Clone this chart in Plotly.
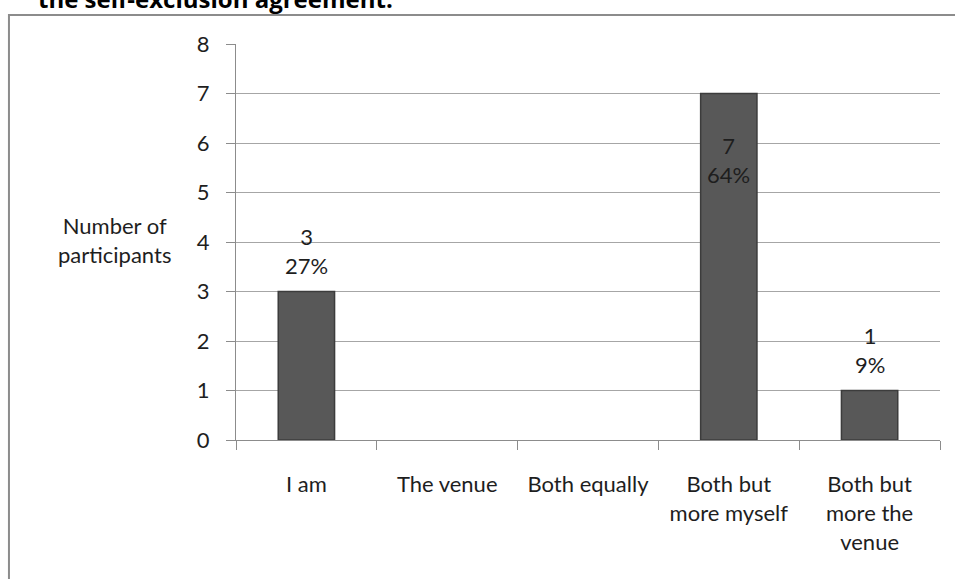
import plotly.graph_objects as go

categories = ["I am", "The venue", "Both equally", "Both but<br>more myself", "Both but<br>more the<br>venue"]
counts = [3, 0, 0, 7, 1]
y_ticks = [0, 1, 2, 3, 4, 5, 6, 7, 8]

total = sum(counts)
FONT = "Lato, 'Open Sans', sans-serif"
FS = 22
TXT = "#1e1e1e"

fig = go.Figure()
fig.add_trace(go.Bar(
    x=categories,
    y=counts,
    width=0.40,
    marker=dict(color="#585858",
                line=dict(color="#3c3c3c", width=[1.5 if v > 0 else 0 for v in counts])),
    hoverinfo="skip",
))

# value / share labels: above short bars, inside the tall one
annotations = []
for cat, v in zip(categories, counts):
    if v == 0:
        continue
    label = f"{v}<br>{round(100 * v / total)}%"
    if v >= 6:
        annotations.append(dict(x=cat, y=v, xref="x", yref="y", text=label,
                                 showarrow=False, yanchor="top", yshift=-36,
                                 font=dict(size=FS, color=TXT, family=FONT)))
    else:
        annotations.append(dict(x=cat, y=v, xref="x", yref="y", text=label,
                                 showarrow=False, yanchor="bottom", yshift=11,
                                 font=dict(size=FS, color=TXT, family=FONT)))

# axis title placed horizontally to the left of the value axis
annotations.append(dict(x=-0.172, y=0.505, xref="paper", yref="paper",
                        text="Number of<br>participants", showarrow=False,
                        xanchor="center", yanchor="middle", align="center",
                        font=dict(size=FS, color=TXT, family=FONT)))

# heading above the chart frame
annotations.append(dict(x=-0.284, y=1.068, xref="paper", yref="paper",
                        text="<b>the self-exclusion agreement.</b>", showarrow=False,
                        xanchor="left", yanchor="bottom",
                        font=dict(size=24, color="#000000", family="'Open Sans', sans-serif")))

fig.update_layout(
    width=955, height=579,
    margin=dict(l=236, r=15, t=44, b=139),
    paper_bgcolor="white", plot_bgcolor="white",
    showlegend=False,
    annotations=annotations,
    font=dict(family=FONT, size=FS, color=TXT),
    shapes=[dict(type="rect", xref="paper", yref="paper",
                 x0=-0.3225, x1=1.05, y0=-0.5, y1=1.073,
                 line=dict(color="#8c8c8c", width=2), fillcolor="rgba(0,0,0,0)",
                 layer="below")],
)

fig.update_xaxes(
    type="category",
    tickson="boundaries",
    ticks="outside", ticklen=9, tickcolor="#8c8c8c", tickwidth=1,
    showline=True, linecolor="#8c8c8c", linewidth=1,
    showgrid=False,
    ticklabelstandoff=25,
    tickfont=dict(size=FS, family=FONT, color=TXT),
)
fig.update_yaxes(
    range=[0, 8],
    tickvals=y_ticks,
    ticks="outside", ticklen=9, tickcolor="#8c8c8c",
    showline=True, linecolor="#8c8c8c", linewidth=1,
    showgrid=True, gridcolor="#a6a6a6", gridwidth=1,
    zeroline=False,
    ticklabelstandoff=12,
    tickfont=dict(size=FS, family=FONT, color=TXT),
)

fig.write_html("out.html")
